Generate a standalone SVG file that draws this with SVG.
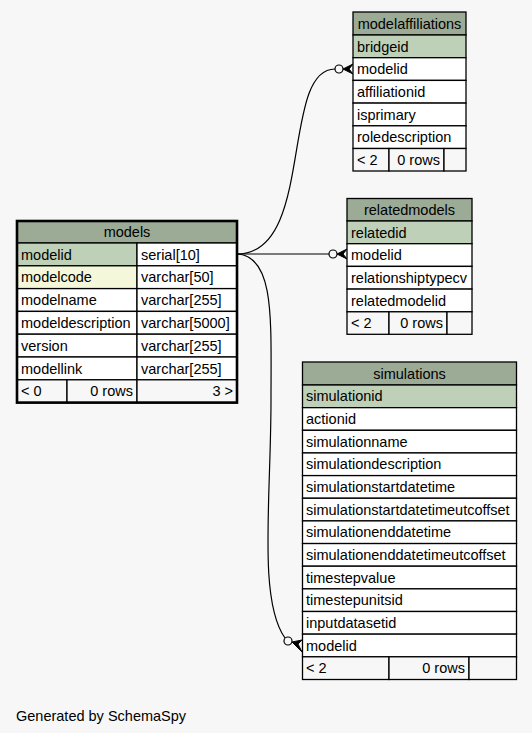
<svg xmlns="http://www.w3.org/2000/svg" width="532" height="733" viewBox="0 0 532 733">
<style>
text{font-family:"Liberation Sans",Arial,sans-serif;font-size:14.5px;fill:#000}
.c{text-anchor:middle}
.r{text-anchor:end}
.hd{fill:#9bab96;stroke:#000;stroke-width:1.3}
.pk{fill:#bed1b8;stroke:#000;stroke-width:1.3}
.ix{fill:#f4f7da;stroke:#000;stroke-width:1.3}
.rw{fill:#fff;stroke:#000;stroke-width:1.3}
.ft{fill:#f7f7f7;stroke:#000;stroke-width:1.3}
.ln{fill:none;stroke:#000;stroke-width:1.2}
.dot{fill:#f7f7f7;stroke:#000;stroke-width:1.2}
.crow{fill:#000;stroke:#000;stroke-width:1}
</style>
<rect width="532" height="733" fill="#f7f7f7"/>

<g id="connectors">
  <path class="ln" d="M237,254 C315,254 280,69 335,69"/>
  <circle class="dot" cx="339" cy="69" r="4"/>
  <polygon class="crow" points="343,69 353,64 349,69 353,74"/>

  <path class="ln" d="M237,254 L329,254"/>
  <circle class="dot" cx="333" cy="254" r="4"/>
  <polygon class="crow" points="337,254 347,249 343,254 347,259"/>

  <path class="ln" d="M237,254 C275,256 271,320 271,400 C271,500 258,600 285,638"/>
  <circle class="dot" cx="288" cy="641" r="4"/>
  <polygon class="crow" points="292,642 302,640 298,644 302,652"/>
</g>

<g id="models">
  <rect class="hd" x="17" y="221" width="220" height="22"/>
  <text class="c" x="127" y="237">models</text>
  <rect class="pk" x="17" y="243" width="120" height="22.8"/>
  <rect class="rw" x="137" y="243" width="100" height="22.8"/>
  <text x="21" y="259.5">modelid</text><text x="141" y="259.5">serial[10]</text>
  <rect class="ix" x="17" y="265.8" width="120" height="22.8"/>
  <rect class="rw" x="137" y="265.8" width="100" height="22.8"/>
  <text x="21" y="282.3">modelcode</text><text x="141" y="282.3">varchar[50]</text>
  <rect class="rw" x="17" y="288.6" width="120" height="22.8"/>
  <rect class="rw" x="137" y="288.6" width="100" height="22.8"/>
  <text x="21" y="305.1">modelname</text><text x="141" y="305.1">varchar[255]</text>
  <rect class="rw" x="17" y="311.4" width="120" height="22.8"/>
  <rect class="rw" x="137" y="311.4" width="100" height="22.8"/>
  <text x="21" y="327.9">modeldescription</text><text x="141" y="327.9">varchar[5000]</text>
  <rect class="rw" x="17" y="334.2" width="120" height="22.8"/>
  <rect class="rw" x="137" y="334.2" width="100" height="22.8"/>
  <text x="21" y="350.7">version</text><text x="141" y="350.7">varchar[255]</text>
  <rect class="rw" x="17" y="357" width="120" height="22.8"/>
  <rect class="rw" x="137" y="357" width="100" height="22.8"/>
  <text x="21" y="373.5">modellink</text><text x="141" y="373.5">varchar[255]</text>
  <rect class="ft" x="17" y="379.8" width="50" height="22.8"/>
  <rect class="ft" x="67" y="379.8" width="70" height="22.8"/>
  <rect class="ft" x="137" y="379.8" width="100" height="22.8"/>
  <text x="21" y="396.3">&lt; 0</text><text class="r" x="133" y="396.3">0 rows</text><text class="r" x="233" y="396.3">3 &gt;</text>
  <rect x="17" y="221" width="220" height="181.6" fill="none" stroke="#000" stroke-width="2.6"/>
</g>

<g id="modelaffiliations">
  <rect class="hd" x="353" y="12" width="113" height="23"/>
  <text class="c" x="409.5" y="28.5">modelaffiliations</text>
  <rect class="pk" x="353" y="35" width="113" height="22.7"/>
  <text x="357" y="51.5">bridgeid</text>
  <rect class="rw" x="353" y="57.7" width="113" height="22.7"/>
  <text x="357" y="74.2">modelid</text>
  <rect class="rw" x="353" y="80.4" width="113" height="22.7"/>
  <text x="357" y="96.9">affiliationid</text>
  <rect class="rw" x="353" y="103.1" width="113" height="22.7"/>
  <text x="357" y="119.6">isprimary</text>
  <rect class="rw" x="353" y="125.8" width="113" height="22.7"/>
  <text x="357" y="142.3">roledescription</text>
  <rect class="ft" x="353" y="148.5" width="36" height="22.5"/>
  <rect class="ft" x="389" y="148.5" width="55" height="22.5"/>
  <rect class="ft" x="444" y="148.5" width="22" height="22.5"/>
  <text x="357" y="165">&lt; 2</text><text class="r" x="440" y="165">0 rows</text>
</g>

<g id="relatedmodels">
  <rect class="hd" x="347" y="198.5" width="125" height="22.5"/>
  <text class="c" x="409.5" y="214.7">relatedmodels</text>
  <rect class="pk" x="347" y="221" width="125" height="22.7"/>
  <text x="351" y="237.5">relatedid</text>
  <rect class="rw" x="347" y="243.7" width="125" height="22.7"/>
  <text x="351" y="260.2">modelid</text>
  <rect class="rw" x="347" y="266.4" width="125" height="22.7"/>
  <text x="351" y="282.9">relationshiptypecv</text>
  <rect class="rw" x="347" y="289.1" width="125" height="22.7"/>
  <text x="351" y="305.6">relatedmodelid</text>
  <rect class="ft" x="347" y="311.8" width="42" height="22.5"/>
  <rect class="ft" x="389" y="311.8" width="58" height="22.5"/>
  <rect class="ft" x="447" y="311.8" width="25" height="22.5"/>
  <text x="351" y="328.3">&lt; 2</text><text class="r" x="443" y="328.3">0 rows</text>
</g>

<g id="simulations">
  <rect class="hd" x="302.5" y="362" width="214" height="23"/>
  <text class="c" x="409.5" y="378.5">simulations</text>
  <rect class="pk" x="302.5" y="385" width="214" height="22.65"/>
  <text x="306" y="401.4">simulationid</text>
  <rect class="rw" x="302.5" y="407.65" width="214" height="22.65"/>
  <text x="306" y="424">actionid</text>
  <rect class="rw" x="302.5" y="430.3" width="214" height="22.65"/>
  <text x="306" y="446.7">simulationname</text>
  <rect class="rw" x="302.5" y="452.95" width="214" height="22.65"/>
  <text x="306" y="469.4">simulationdescription</text>
  <rect class="rw" x="302.5" y="475.6" width="214" height="22.65"/>
  <text x="306" y="492">simulationstartdatetime</text>
  <rect class="rw" x="302.5" y="498.25" width="214" height="22.65"/>
  <text x="306" y="514.7">simulationstartdatetimeutcoffset</text>
  <rect class="rw" x="302.5" y="520.9" width="214" height="22.65"/>
  <text x="306" y="537.3">simulationenddatetime</text>
  <rect class="rw" x="302.5" y="543.55" width="214" height="22.65"/>
  <text x="306" y="560">simulationenddatetimeutcoffset</text>
  <rect class="rw" x="302.5" y="566.2" width="214" height="22.65"/>
  <text x="306" y="582.6">timestepvalue</text>
  <rect class="rw" x="302.5" y="588.85" width="214" height="22.65"/>
  <text x="306" y="605.3">timestepunitsid</text>
  <rect class="rw" x="302.5" y="611.5" width="214" height="22.65"/>
  <text x="306" y="627.9">inputdatasetid</text>
  <rect class="rw" x="302.5" y="634.15" width="214" height="22.65"/>
  <text x="306" y="650.6">modelid</text>
  <rect class="ft" x="302.5" y="656.8" width="86.5" height="22.7"/>
  <rect class="ft" x="389" y="656.8" width="80" height="22.7"/>
  <rect class="ft" x="469" y="656.8" width="47.5" height="22.7"/>
  <text x="306" y="673.2">&lt; 2</text><text class="r" x="465" y="673.2">0 rows</text>
</g>

<text x="16" y="721">Generated by SchemaSpy</text>
</svg>
